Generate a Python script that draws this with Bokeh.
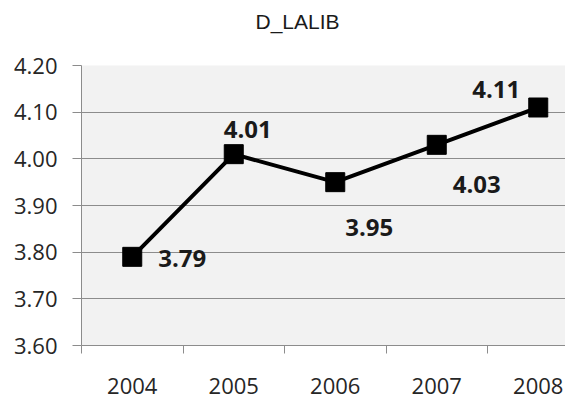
from bokeh.plotting import figure
from bokeh.models import Range1d, FixedTicker, PrintfTickFormatter, ColumnDataSource
from bokeh.core.properties import value
from bokeh.embed import file_html
from bokeh.resources import INLINE

# ---- data ----
years = [2004, 2005, 2006, 2007, 2008]
values = [3.79, 4.01, 3.95, 4.03, 4.11]
labels = ["3.79", "4.01", "3.95", "4.03", "4.11"]
y_ticks = [3.60, 3.70, 3.80, 3.90, 4.00, 4.10, 4.20]
title_text = "D_LALIB"

# ---- label placement (screen px) ----
label_dx = [50, 14, 34, 40, -42]
label_dy = [2, -25, 45, 40, -18]

GRID = "#8c8c8c"
TXT = "#262626"

p = figure(width=565, height=398,
           x_range=Range1d(years[0] - 0.5, years[0] - 0.5 + (565 - 81) / 101.5),
           y_range=Range1d(y_ticks[0], y_ticks[-1]),
           output_backend="svg", toolbar_location=None,
           min_border_left=81, min_border_right=0,
           min_border_top=65, min_border_bottom=53,
           background_fill_color="#f2f2f2", border_fill_color="white",
           outline_line_color=None)

# title: a trailing empty line lifts it towards the top of the chart
p.title.text = title_text + "\n"
p.title.align = "left"
p.title.vertical_align = "top"
p.title.offset = 174
p.title.standoff = 16
p.title.text_font = "Liberation Sans"
p.title.text_font_size = "21px"
p.title.text_font_style = "normal"
p.title.text_color = "#1a1a1a"

# x axis
xa = p.xaxis[0]
xa.ticker = FixedTicker(ticks=years, minor_ticks=[y - 0.5 for y in years] + [years[-1] + 0.5])
xa.major_tick_out = 0
xa.major_tick_in = 0
xa.minor_tick_out = 8
xa.minor_tick_in = 0
xa.minor_tick_line_color = GRID
xa.axis_line_color = GRID
xa.major_label_text_font = "Open Sans"
xa.major_label_text_font_size = "22px"
xa.major_label_text_color = TXT
xa.major_label_standoff = 24

# y axis
ya = p.yaxis[0]
ya.ticker = FixedTicker(ticks=y_ticks)
ya.formatter = PrintfTickFormatter(format="%.2f")
ya.major_tick_out = 9
ya.major_tick_in = 0
ya.minor_tick_out = 0
ya.minor_tick_in = 0
ya.major_tick_line_color = GRID
ya.axis_line_color = GRID
ya.major_label_text_font = "Open Sans"
ya.major_label_text_font_size = "22px"
ya.major_label_text_color = TXT
ya.major_label_standoff = 15

p.xgrid.visible = False
p.ygrid.ticker = FixedTicker(ticks=y_ticks)
p.ygrid.grid_line_color = GRID
p.ygrid.grid_line_width = 1

src = ColumnDataSource(dict(x=years, y=values, t=labels, dx=label_dx, dy=label_dy))
p.line("x", "y", source=src, line_width=4, line_color="black")
p.scatter("x", "y", source=src, marker="square", size=19, fill_color="black", line_color="black")
p.text("x", "y", text="t", source=src, x_offset="dx", y_offset="dy",
       text_align="center", text_baseline="middle",
       text_font=value("Open Sans"), text_font_size="24px", text_font_style="bold",
       text_color="#1a1a1a")

open("out.html", "w").write(file_html(p, INLINE))
